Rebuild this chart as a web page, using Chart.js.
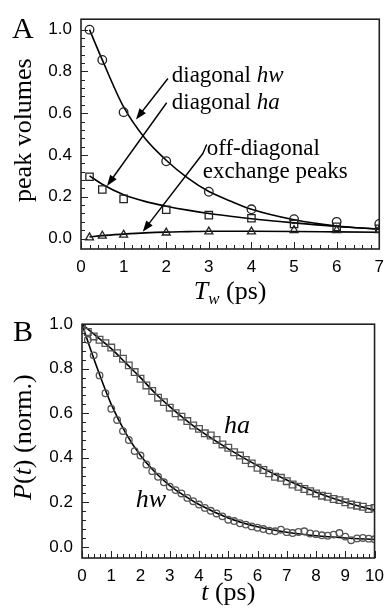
<!DOCTYPE html>
<html>
<head>
<meta charset="utf-8">
<script src="https://cdn.jsdelivr.net/npm/chart.js@4"></script>
<style>
  body { margin: 0; background: #fff; }
  canvas { position: absolute; left: 0; }
  #panelA { top: 0; }
  #panelB { top: 305px; }
</style>
</head>
<body>
<canvas id="panelA" width="392" height="320"></canvas>
<canvas id="panelB" width="392" height="306"></canvas>
<script>
// panel A: 2D IR peak volumes vs waiting time
const twA = [0.2, 0.5, 1, 2, 3, 4, 5, 6, 7];
const diagHw = [1.0, 0.855, 0.605, 0.37, 0.224, 0.14, 0.093, 0.08, 0.07];
const diagHa = [0.296, 0.235, 0.19, 0.138, 0.112, 0.097, 0.07, 0.056, 0.047];
const offDiag = [0.005, 0.013, 0.018, 0.028, 0.033, 0.033, 0.04, 0.04, 0.04];

// fitted curves, panel A
const fitTwA = [0.2, 0.5, 1, 1.5, 2, 2.5, 3, 3.5, 4, 5, 6, 7];
const fitHwA = [1.0, 0.855, 0.63, 0.48, 0.375, 0.29, 0.225, 0.18, 0.14, 0.09, 0.06, 0.045];
const fitHaA = [0.30, 0.26, 0.21, 0.178, 0.155, 0.136, 0.12, 0.107, 0.095, 0.075, 0.058, 0.045];
const fitOffA = [0.008, 0.014, 0.021, 0.027, 0.031, 0.033, 0.035, 0.035, 0.035, 0.034, 0.032, 0.03];

const xTicksA = [0, 1, 2, 3, 4, 5, 6, 7];
const yTicks = [0, 0.2, 0.4, 0.6, 0.8, 1.0];

// panel B: population decays P(t)
const tB = [0, 0.2, 0.4, 0.6, 0.8, 1, 1.2, 1.4, 1.6, 1.8, 2, 2.2, 2.4, 2.6, 2.8, 3, 3.2, 3.4, 3.6, 3.8,
  4, 4.2, 4.4, 4.6, 4.8, 5, 5.2, 5.4, 5.6, 5.8, 6, 6.2, 6.4, 6.6, 6.8, 7, 7.2, 7.4, 7.6, 7.8,
  8, 8.2, 8.4, 8.6, 8.8, 9, 9.2, 9.4, 9.6, 9.8, 10];
const popHw = [1.0, 0.93, 0.86, 0.77, 0.69, 0.62, 0.57, 0.52, 0.48, 0.43, 0.41, 0.37, 0.34, 0.315, 0.29, 0.27, 0.255, 0.24, 0.22, 0.205,
  0.19, 0.175, 0.162, 0.15, 0.137, 0.122, 0.116, 0.106, 0.1, 0.092, 0.086, 0.08, 0.073, 0.07, 0.077, 0.066, 0.062, 0.067, 0.07, 0.06,
  0.057, 0.052, 0.05, 0.055, 0.062, 0.046, 0.03, 0.038, 0.04, 0.037, 0.034];
const popHa = [1.0, 0.965, 0.945, 0.93, 0.915, 0.895, 0.87, 0.845, 0.815, 0.785, 0.755, 0.725, 0.70, 0.67, 0.65, 0.625, 0.60, 0.585, 0.565, 0.545,
  0.53, 0.51, 0.50, 0.48, 0.46, 0.445, 0.425, 0.41, 0.39, 0.375, 0.355, 0.345, 0.33, 0.315, 0.31, 0.295, 0.28, 0.27, 0.26, 0.25,
  0.24, 0.23, 0.225, 0.215, 0.21, 0.2, 0.19, 0.185, 0.18, 0.17, 0.175];

const fitTB = [0, 0.5, 1, 1.5, 2, 2.5, 3, 3.5, 4, 5, 6, 7, 8, 9, 10];
const fitHwB = [1.0, 0.81, 0.64, 0.51, 0.41, 0.335, 0.275, 0.23, 0.19, 0.13, 0.09, 0.066, 0.05, 0.04, 0.033];
const fitHaB = [1.0, 0.945, 0.89, 0.825, 0.76, 0.69, 0.63, 0.575, 0.525, 0.44, 0.365, 0.30, 0.245, 0.20, 0.165];

const xTicksB = [0, 1, 2, 3, 4, 5, 6, 7, 8, 9, 10];

const SERIF = '"Liberation Serif", "Times New Roman", serif';
const SANS = '"Liberation Sans", Arial, sans-serif';

const pts = (xs, ys) => xs.map((x, i) => ({ x: x, y: ys[i] }));

// text runs with italic / subscript pieces
function richWidth(ctx, parts, size) {
  let w = 0;
  for (const p of parts) {
    ctx.font = (p.i ? 'italic ' : '') + (p.sub ? size * 0.65 : size) + 'px ' + SERIF;
    w += ctx.measureText(p.t).width;
  }
  return w;
}
function drawRich(ctx, parts, size, x, y) {
  for (const p of parts) {
    ctx.font = (p.i ? 'italic ' : '') + (p.sub ? size * 0.65 : size) + 'px ' + SERIF;
    ctx.fillText(p.t, x, p.sub ? y + size * 0.3 : y);
    x += ctx.measureText(p.t).width;
  }
}

const panelDecor = {
  id: 'panelDecor',
  afterDraw(chart, args, o) {
    const { ctx, chartArea: a } = chart;
    const xs = chart.scales.x, ys = chart.scales.y;
    ctx.save();

    // inward ticks, left and bottom only
    ctx.strokeStyle = '#222';
    ctx.lineWidth = 1;
    ctx.beginPath();
    const nx = Math.round((xs.max - xs.min) / o.xMinor);
    for (let i = 0; i <= nx; i++) {
      const len = i % o.xEvery === 0 ? 7 : 4;
      const px = Math.round(xs.getPixelForValue(xs.min + i * o.xMinor)) + 0.5;
      ctx.moveTo(px, a.bottom);
      ctx.lineTo(px, a.bottom - len);
    }
    for (let i = 0; i <= 25; i++) {
      const len = i % 5 === 0 ? 7 : 4;
      const py = Math.round(ys.getPixelForValue(i * 0.04)) + 0.5;
      ctx.moveTo(a.left, py);
      ctx.lineTo(a.left + len, py);
    }
    ctx.stroke();

    ctx.lineWidth = 1.6;
    ctx.strokeRect(a.left, a.top, a.right - a.left, a.bottom - a.top);

    ctx.fillStyle = '#000';
    ctx.textBaseline = 'middle';
    ctx.textAlign = 'left';

    // panel letter
    ctx.font = '30px ' + SERIF;
    ctx.fillText(o.letter, o.letterX, o.letterY);

    // axis titles
    const cx = (a.left + a.right) / 2;
    drawRich(ctx, o.xTitle, 26, cx - richWidth(ctx, o.xTitle, 26) / 2, o.xTitleY);
    ctx.save();
    ctx.translate(o.yTitleX, (a.top + a.bottom) / 2 - 4);
    ctx.rotate(-Math.PI / 2);
    drawRich(ctx, o.yTitle, 26, -richWidth(ctx, o.yTitle, 26) / 2, 0);
    ctx.restore();

    // labels inside the plot, placed in data units
    for (const n of o.notes) {
      drawRich(ctx, n.parts, n.size, xs.getPixelForValue(n.x), ys.getPixelForValue(n.y));
    }

    // arrows: polyline ending in a filled head
    ctx.strokeStyle = '#000';
    ctx.lineWidth = 1.4;
    for (const ar of o.arrows) {
      const p = ar.map(q => [xs.getPixelForValue(q[0]), ys.getPixelForValue(q[1])]);
      const [tx, ty] = p[p.length - 1];
      const [sx, sy] = p[p.length - 2];
      const ang = Math.atan2(ty - sy, tx - sx);
      const hl = 11, hw = 4;
      ctx.beginPath();
      ctx.moveTo(p[0][0], p[0][1]);
      for (let i = 1; i < p.length - 1; i++) ctx.lineTo(p[i][0], p[i][1]);
      ctx.lineTo(tx - Math.cos(ang) * hl * 0.8, ty - Math.sin(ang) * hl * 0.8);
      ctx.stroke();
      ctx.beginPath();
      ctx.moveTo(tx, ty);
      ctx.lineTo(tx - Math.cos(ang) * hl - Math.sin(ang) * hw, ty - Math.sin(ang) * hl + Math.cos(ang) * hw);
      ctx.lineTo(tx - Math.cos(ang) * hl + Math.sin(ang) * hw, ty - Math.sin(ang) * hl - Math.cos(ang) * hw);
      ctx.closePath();
      ctx.fill();
    }
    ctx.restore();
  }
};

function axes(xMax, xTicks, yMin, yMax, yWidth, xHeight) {
  return {
    x: {
      type: 'linear', min: 0, max: xMax,
      grid: { display: false, drawTicks: false },
      border: { display: false },
      ticks: { color: '#000', padding: 8, font: { family: SANS, size: 17 } },
      afterBuildTicks: s => { s.ticks = xTicks.map(v => ({ value: v })); },
      afterFit: s => { s.height = xHeight; }
    },
    y: {
      type: 'linear', min: yMin, max: yMax,
      grid: { display: false, drawTicks: false },
      border: { display: false },
      ticks: { color: '#000', padding: 9, font: { family: SANS, size: 17 }, callback: v => v.toFixed(1) },
      afterBuildTicks: s => { s.ticks = yTicks.map(v => ({ value: v })); },
      afterFit: s => { s.width = yWidth; }
    }
  };
}

function markers(data, style, r, color) {
  return {
    data: data, showLine: false, pointStyle: style, pointRadius: r,
    pointBorderColor: color, pointBackgroundColor: 'rgba(0,0,0,0)', pointBorderWidth: 1.3
  };
}
function fitLine(data) {
  return {
    data: data, showLine: true, pointRadius: 0, borderColor: '#000', borderWidth: 1.6,
    cubicInterpolationMode: 'monotone'
  };
}

new Chart('panelA', {
  type: 'scatter',
  data: {
    datasets: [
      markers(pts(twA, diagHw), 'circle', 4.3, '#222'),
      markers(pts(twA, diagHa), 'rect', 5.2, '#222'),
      markers(pts(twA, offDiag), 'triangle', 4.6, '#222'),
      fitLine(pts(fitTwA, fitHwA)),
      fitLine(pts(fitTwA, fitHaA)),
      fitLine(pts(fitTwA, fitOffA))
    ]
  },
  options: {
    responsive: false, animation: false,
    layout: { padding: { left: 0, top: 14, right: 11, bottom: 15 } },
    scales: axes(7, xTicksA, -0.05, 1.05, 81, 56),
    plugins: {
      legend: { display: false }, tooltip: { enabled: false },
      panelDecor: {
        xMinor: 0.2, xEvery: 5,
        letter: 'A', letterX: 12, letterY: 30,
        xTitle: [{ t: 'T', i: true }, { t: 'w', i: true, sub: true }, { t: ' (ps)' }], xTitleY: 292,
        yTitle: [{ t: 'peak volumes' }], yTitleX: 24,
        notes: [
          { x: 2.13, y: 0.78, size: 23, parts: [{ t: 'diagonal ' }, { t: 'hw', i: true }] },
          { x: 2.13, y: 0.65, size: 23, parts: [{ t: 'diagonal ' }, { t: 'ha', i: true }] },
          { x: 2.95, y: 0.43, size: 23, parts: [{ t: 'off-diagonal' }] },
          { x: 2.86, y: 0.32, size: 23, parts: [{ t: 'exchange peaks' }] }
        ],
        arrows: [
          [[2.04, 0.766], [1.29, 0.57]],
          [[2.01, 0.65], [0.61, 0.252]],
          [[2.95, 0.45], [2.86, 0.407], [1.45, 0.033]]
        ]
      }
    }
  },
  plugins: [panelDecor]
});

new Chart('panelB', {
  type: 'scatter',
  data: {
    datasets: [
      markers(pts(tB, popHw), 'circle', 3.3, '#555'),
      markers(pts(tB, popHa), 'rect', 4.7, '#555'),
      fitLine(pts(fitTB, fitHwB)),
      fitLine(pts(fitTB, fitHaB))
    ]
  },
  options: {
    responsive: false, animation: false,
    layout: { padding: { left: 0, top: 19, right: 11, bottom: 0 } },
    scales: axes(10, xTicksB, -0.05, 1.0, 82, 53),
    plugins: {
      legend: { display: false }, tooltip: { enabled: false },
      panelDecor: {
        xMinor: 0.2, xEvery: 5,
        letter: 'B', letterX: 13, letterY: 28,
        xTitle: [{ t: 't', i: true }, { t: ' (ps)' }], xTitleY: 288,
        yTitle: [{ t: 'P', i: true }, { t: '(' }, { t: 't', i: true }, { t: ') (norm.)' }], yTitleX: 24,
        notes: [
          { x: 4.85, y: 0.54, size: 26, parts: [{ t: 'ha', i: true }] },
          { x: 1.84, y: 0.21, size: 26, parts: [{ t: 'hw', i: true }] }
        ],
        arrows: []
      }
    }
  },
  plugins: [panelDecor]
});
</script>
</body>
</html>
